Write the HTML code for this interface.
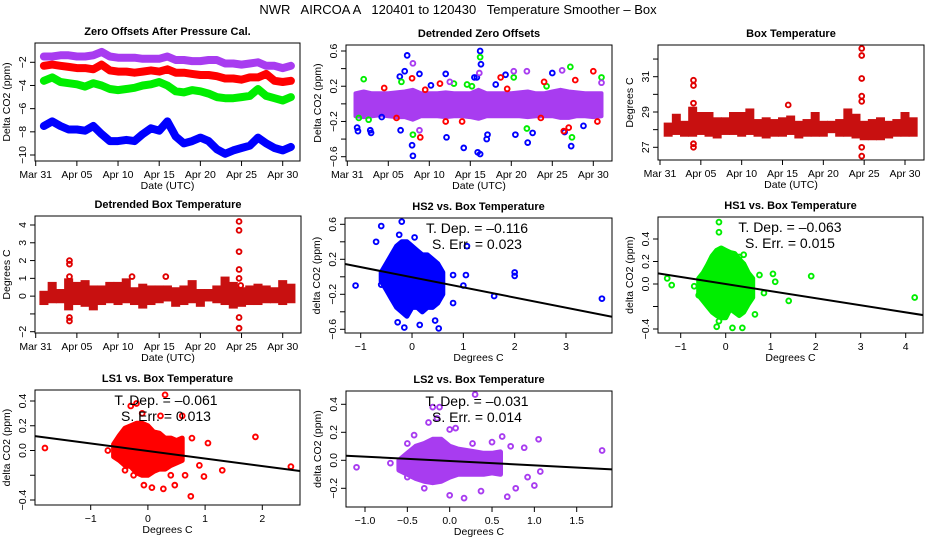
<!DOCTYPE html>
<html><head><meta charset="utf-8"><style>
html,body{margin:0;padding:0;background:#fff;}
svg{display:block;font-family:"Liberation Sans",Arial,sans-serif;}
</style></head><body>
<svg id="c" width="936" height="540" viewBox="0 0 936 540" xmlns="http://www.w3.org/2000/svg">
<text x="458" y="14" font-size="13" text-anchor="middle" xml:space="preserve">NWR   AIRCOA A   120401 to 120430   Temperature Smoother – Box</text>
</svg>
<script>
// ---------- data ----------
const days = [1,2,3,4,5,6,7,8,9,10,11,12,13,14,15,16,17,18,19,20,21,22,23,24,25,26,27,28,29,30,31];
const zeroPurple = [-1.5,-1.5,-1.4,-1.4,-1.5,-1.5,-1.4,-1.1,-1.5,-1.6,-1.6,-1.6,-1.7,-1.7,-1.7,-1.5,-1.8,-1.8,-1.9,-1.9,-1.8,-1.8,-2.1,-2.1,-2.2,-2.1,-2.0,-2.3,-2.3,-2.5,-2.3];
const zeroRed = [-2.3,-2.2,-2.3,-2.4,-2.5,-2.5,-2.6,-2.2,-2.7,-2.8,-2.8,-2.9,-2.8,-2.7,-2.8,-2.6,-2.9,-2.9,-3.0,-3.1,-3.1,-3.2,-3.4,-3.4,-3.5,-3.3,-3.3,-3.0,-3.6,-3.7,-3.6];
const zeroGreen = [-3.6,-3.3,-3.7,-3.8,-3.9,-4.1,-3.8,-4.0,-4.3,-4.4,-4.3,-4.2,-4.0,-3.9,-3.7,-4.0,-4.5,-4.6,-4.4,-4.5,-4.7,-5.0,-5.1,-5.1,-5.0,-4.9,-4.3,-4.9,-5.1,-5.3,-5.0];
const zeroBlue = [-7.5,-7.1,-7.5,-7.8,-7.8,-7.9,-7.5,-8.2,-8.8,-8.8,-8.7,-8.8,-8.2,-7.7,-7.9,-7.1,-8.4,-9.0,-8.8,-8.5,-8.8,-9.5,-9.9,-9.6,-9.4,-9.2,-8.5,-9.0,-9.4,-9.6,-9.3];

const detrHi = [0.12,0.14,0.12,0.12,0.12,0.13,0.14,0.16,0.12,0.12,0.12,0.13,0.12,0.12,0.12,0.16,0.12,0.12,0.12,0.12,0.13,0.14,0.12,0.12,0.14,0.16,0.14,0.13,0.12,0.12,0.12];
const detrLo = [-0.14,-0.15,-0.14,-0.13,-0.14,-0.15,-0.15,-0.18,-0.14,-0.14,-0.14,-0.15,-0.14,-0.14,-0.15,-0.17,-0.14,-0.14,-0.14,-0.14,-0.14,-0.15,-0.14,-0.14,-0.14,-0.16,-0.16,-0.14,-0.14,-0.15,-0.14];
const detrBlueDay = [7.3,8.0,7.9,16.2,16.2,15.9,12.0,12.1,14.2,22.0,27.3,1.2,1.3,2.8,2.9,6.4,7.0,8.8,16.3,15.8,15.5,17.0,17.1,19.3,20.5,22.6,25.0,26.5,28.8,4.2,6.5,10.2,18.1];
const detrBlueVal = [0.55,-0.59,-0.47,0.6,-0.57,-0.55,0.34,-0.38,-0.5,-0.44,-0.48,-0.27,-0.31,-0.3,-0.33,0.31,0.37,0.34,0.45,0.3,0.3,-0.4,-0.35,0.33,-0.35,-0.33,0.35,-0.32,-0.25,-0.15,-0.3,0.21,0.22];
const detrGreenDay = [16.2,27.2,2.0,6.6,8.0,21.9,27.4,31.0,14.6,15.2,13.0,1.4,2.6,20.3,24.3];
const detrGreenVal = [0.53,0.42,0.28,0.25,-0.35,-0.28,-0.38,0.3,0.22,0.2,0.23,-0.16,-0.18,0.3,0.2];
const detrRedDay = [30.0,8.9,7.9,11.3,27.8,26.4,27.0,23.6,6.0,12.0,18.7,30.5,24.0,4.5,9.5,14.0,19.5];
const detrRedVal = [0.37,-0.38,0.29,0.23,0.27,-0.31,-0.27,-0.16,-0.16,-0.2,0.3,-0.2,0.25,0.18,0.16,-0.2,0.17];
const detrMagDay = [8.0,20.3,21.9,16.1,26.2,8.8,12.5,31.0];
const detrMagVal = [0.46,0.37,0.37,0.35,0.38,-0.3,0.25,0.24];

const boxHi = [28.4,28.9,28.5,29.3,29.0,29.0,28.7,28.7,29.0,29.0,29.2,28.6,28.7,28.6,28.7,28.8,28.5,28.6,29.0,28.5,28.5,28.6,29.2,28.9,28.5,28.6,28.7,28.5,28.6,29.0,28.7];
const boxLo = [27.6,27.7,27.6,27.6,27.7,27.6,27.5,27.7,27.7,27.6,27.7,27.6,27.5,27.6,27.6,27.7,27.5,27.6,27.6,27.6,27.8,27.6,27.6,27.5,27.4,27.4,27.4,27.5,27.6,27.6,27.6];
const boxOutDay = [4.1,4.1,4.1,4.1,4.1,15.7,24.7,24.7,24.7,24.7,24.7,24.7,24.7];
const boxOutVal = [30.8,30.5,29.5,27.2,27.0,29.4,32.6,32.2,30.9,29.9,29.6,27.0,26.5];

const dboxHi = [0.3,0.8,0.4,1.0,0.8,0.9,0.6,0.6,0.8,0.8,1.0,0.5,0.7,0.6,0.6,0.6,0.5,0.6,0.9,0.4,0.4,0.6,1.1,0.8,0.5,0.6,0.7,0.6,0.5,0.9,0.7];
const dboxLo = [-0.5,-0.4,-0.4,-0.8,-0.5,-0.6,-0.8,-0.5,-0.4,-0.5,-0.4,-0.5,-0.7,-0.5,-0.4,-0.3,-0.6,-0.5,-0.4,-0.6,-0.3,-0.4,-0.5,-0.7,-0.6,-0.5,-0.5,-0.4,-0.4,-0.5,-0.4];
const dboxOutDay = [4.1,4.1,4.1,4.1,4.1,15.8,24.7,24.7,24.7,24.7,24.7,24.7,24.7,24.9,11.7];
const dboxOutVal = [2.0,1.8,-1.2,-1.4,1.1,1.1,4.2,3.7,2.5,1.5,1.0,-1.2,-1.8,0.6,1.1];

const cloudX = [-0.6,-0.5,-0.4,-0.3,-0.2,-0.1,0,0.1,0.2,0.3,0.4,0.5,0.6];
const hs2Hi = [0.05,0.15,0.25,0.35,0.4,0.4,0.35,0.3,0.25,0.25,0.2,0.15,0.05];
const hs2Lo = [-0.05,-0.15,-0.25,-0.35,-0.4,-0.45,-0.35,-0.35,-0.4,-0.35,-0.35,-0.3,-0.2];
const hs2OutX = [-1.1,-0.6,-0.2,-0.7,1.07,2.0,2.0,1.6,3.7,0.8,1.05,1.0,0.8,0.52,0.15,-0.15,-0.28,0.45,-0.6,0.05,-0.25];
const hs2OutY = [-0.1,0.58,0.63,0.4,0.35,0.05,0.01,-0.22,-0.25,0.02,0.02,-0.1,-0.3,-0.59,-0.55,-0.58,-0.52,-0.5,-0.09,0.45,0.48];
const hs2Fit = [-0.116, -0.005];

const hs1Hi = [0.05,0.1,0.17,0.25,0.3,0.32,0.3,0.28,0.27,0.22,0.18,0.1,0.05];
const hs1Lo = [-0.1,-0.15,-0.2,-0.25,-0.28,-0.3,-0.3,-0.22,-0.25,-0.28,-0.25,-0.18,-0.12];
const hs1OutX = [-1.3,-1.2,-0.15,-0.15,1.05,1.1,1.4,1.9,4.2,-0.2,0.15,0.37,-0.15,0.65,0.75,-0.6,-0.7,0.85,0.3,0.4];
const hs1OutY = [0.05,-0.01,0.55,0.46,0.09,0.02,-0.15,0.07,-0.12,-0.38,-0.39,-0.39,-0.33,-0.27,0.08,-0.1,-0.02,-0.08,0.24,0.26];
const hs1Fit = [-0.063, 0.0];

const ls1Hi = [0.05,0.12,0.18,0.2,0.22,0.22,0.2,0.15,0.14,0.1,0.1,0.08,0.1];
const ls1Lo = [-0.05,-0.08,-0.12,-0.13,-0.18,-0.2,-0.2,-0.17,-0.15,-0.15,-0.12,-0.1,-0.08];
const ls1OutX = [-1.8,0.3,-0.3,-0.2,0.22,0.6,-0.1,1.88,2.5,1.3,1.05,0.77,0.98,0.75,-0.07,0.07,0.27,0.47,0.4,-0.25,-0.4,0.65,0.9,-0.7];
const ls1OutY = [0.02,0.45,0.36,0.38,0.28,0.28,0.3,0.11,-0.13,-0.16,0.06,0.1,-0.21,-0.37,-0.28,-0.3,-0.31,-0.28,-0.2,-0.2,-0.16,-0.2,-0.12,0.0];
const ls1Fit = [-0.061, -0.004];

const ls2Hi = [0.0,0.05,0.1,0.12,0.15,0.15,0.1,0.08,0.07,0.06,0.05,0.05,0.06];
const ls2Lo = [-0.07,-0.1,-0.13,-0.15,-0.16,-0.15,-0.12,-0.1,-0.1,-0.1,-0.1,-0.09,-0.1];
const ls2OutX = [-1.1,-0.7,-0.2,-0.12,-0.15,-0.25,0.0,0.07,0.3,0.62,0.72,0.88,1.05,1.8,1.07,0.92,1.0,0.78,0.68,0.37,0.17,0.0,-0.3,-0.5,-0.42,-0.5,0.5,0.27];
const ls2OutY = [-0.05,-0.02,0.38,0.38,0.3,0.27,0.22,0.23,0.47,0.17,0.1,0.09,0.15,0.07,-0.08,-0.12,-0.18,-0.2,-0.26,-0.22,-0.27,-0.25,-0.2,-0.12,0.18,0.12,0.13,0.12];
const ls2Fit = [-0.031, -0.005];

const dateTicks = [0,5,10,15,20,25,30];
const dateLabels = ["Mar 31","Apr 05","Apr 10","Apr 15","Apr 20","Apr 25","Apr 30"];

// ---------- helpers ----------
const NS="http://www.w3.org/2000/svg";
const svg=document.getElementById('c');
function mk(tag,attrs,parent){const e=document.createElementNS(NS,tag);for(const k in attrs)e.setAttribute(k,attrs[k]);(parent||svg).appendChild(e);return e;}
function lin(v1,p1,v2,p2){const k=(p2-p1)/(v2-v1);return v=>p1+(v-v1)*k;}

function panel(p){
  const g=mk('g',{});
  
  
  const b=p.box;
  const t=mk('text',{x:(b[0]+b[2])/2,y:b[1]-8,'font-size':11,'font-weight':'bold','text-anchor':'middle'},g);
  t.textContent=p.title;
  
  
  const xa=mk('g',{},g);
  
  
  const xt0=p.sx(p.xticks[0]),xt1=p.sx(p.xticks[p.xticks.length-1]);
  mk('line',{x1:xt0,x2:xt1,y1:b[3],y2:b[3],stroke:'#000'},xa);
  p.xticks.forEach((v,i)=>{
    const x=p.sx(v);
    mk('line',{x1:x,x2:x,y1:b[3],y2:b[3]+5,stroke:'#000'},xa);
    const tl=mk('text',{x:x,y:b[3]+17,'font-size':10.5,'text-anchor':'middle'},xa);
    tl.textContent=p.xlabels[i];
    
    
  });
  const xl=mk('text',{x:(b[0]+b[2])/2,y:b[3]+28,'font-size':10.5,'text-anchor':'middle'},g);
  xl.textContent=p.xlab;
  
  
  const ya=mk('g',{},g);
  
  
  const yt0=p.sy(p.yticks[0]),yt1=p.sy(p.yticks[p.yticks.length-1]);
  mk('line',{x1:b[0],x2:b[0],y1:yt0,y2:yt1,stroke:'#000'},ya);
  p.yticks.forEach((v,i)=>{
    const y=p.sy(v);
    mk('line',{x1:b[0]-5,x2:b[0],y1:y,y2:y,stroke:'#000'},ya);
    if(p.ylabels[i]!==''){
      const tl=mk('text',{x:b[0]-9,y:y,'font-size':10.5,'text-anchor':'middle',transform:`rotate(-90 ${b[0]-9} ${y})`},ya);
      tl.textContent=p.ylabels[i];
      
      
    }
  });
  const yx=b[0]-25,yy=(b[1]+b[3])/2;
  const yl=mk('text',{x:yx,y:yy,'font-size':10.5,'text-anchor':'middle',transform:`rotate(-90 ${yx} ${yy})`},g);
  yl.textContent=p.ylab;
  
  
  const cid='clip'+p.name;
  const cp=mk('clipPath',{id:cid},g);
  mk('rect',{x:b[0],y:b[1],width:b[2]-b[0],height:b[3]-b[1]},cp);
  const pg=mk('g',{'clip-path':`url(#${cid})`},g);
  
  
  p.draw(pg,p.sx,p.sy);
  const fr=mk('rect',{x:b[0],y:b[1],width:b[2]-b[0],height:b[3]-b[1],fill:'none',stroke:'#000','stroke-width':1},g);
  
  
  if(p.stats){
    const cx=p.statX;
    const s1=mk('text',{x:cx,y:b[1]+15,'font-size':14,'text-anchor':'middle','xml:space':'preserve'},g);
    s1.textContent='T. Dep. =  \u2013'+p.stats[0];
    
    
    const s2=mk('text',{x:cx,y:b[1]+31,'font-size':14,'text-anchor':'middle','xml:space':'preserve'},g);
    s2.textContent='S. Err. =  '+p.stats[1];
    
    
  }
}
function pts(g,xs,ys,sx,sy,col,name,r){
  xs.forEach((x,i)=>{
    const c=mk('circle',{cx:sx(x),cy:sy(ys[i]),r:r||2.4,fill:'none',stroke:col,'stroke-width':1.9},g);
    
    
  });
}
function line(g,xs,ys,sx,sy,col,w,name){
  const d=xs.map((x,i)=>(i?'L':'M')+sx(x).toFixed(1)+' '+sy(ys[i]).toFixed(1)).join(' ');
  const e=mk('path',{d:d,fill:'none',stroke:col,'stroke-width':w,'stroke-linejoin':'round','stroke-linecap':'round'},g);
  
  
}
function band(g,xs,hi,lo,sx,sy,col,name,pad){
  pad=pad||0;
  let d='M'+xs.map((x,i)=>sx(x).toFixed(1)+' '+sy(hi[i]).toFixed(1)).join(' L');
  d+=' L'+xs.map((x,i)=>[sx(x),sy(lo[i])]).reverse().map(a=>a[0].toFixed(1)+' '+a[1].toFixed(1)).join(' L')+' Z';
  const e=mk('path',{d:d,fill:col,stroke:col,'stroke-width':pad,'stroke-linejoin':'round'},g);
  
  
}
function fitLine(g,fit,b,sx,sy){
  const k=fit[0],c=fit[1];
  const inv=lin(sx(0),0,sx(1),1);
  const xa=inv(b[0]),xb=inv(b[2]);
  const e=mk('line',{x1:b[0],x2:b[2],y1:sy(k*xa+c),y2:sy(k*xb+c),stroke:'#000','stroke-width':2},g);
  
  
}
function bars(g,xs,hi,lo,sx,sy,col,name){
  const w=sx(xs[1])-sx(xs[0])+0.8;
  xs.forEach((x,i)=>{
    const e=mk('rect',{x:sx(x)-w/2,y:sy(hi[i]),width:w,height:sy(lo[i])-sy(hi[i]),fill:col},g);
    
    
  });
}

const PURPLE='#a83cf0';
panel({name:'zero-offsets-panel',box:[35,43,300,161],title:'Zero Offsets After Pressure Cal.',xlab:'Date (UTC)',ylab:'Delta CO2  (ppm)',
  sx:lin(0,35.7,30,282.7),sy:lin(-2,62.3,-10,155),xticks:dateTicks,xlabels:dateLabels,
  yticks:[-2,-4,-6,-8,-10],ylabels:['\u22122','\u22124','\u22126','\u22128','\u221210'],
  draw:(g,sx,sy)=>{
    line(g,days,zeroPurple,sx,sy,PURPLE,8,'series-ls2');
    line(g,days,zeroRed,sx,sy,'#ff0000',8,'series-ls1');
    line(g,days,zeroGreen,sx,sy,'#00ee00',8,'series-hs1');
    line(g,days,zeroBlue,sx,sy,'#0000ff',8,'series-hs2');
  }});
panel({name:'detrended-zero-panel',box:[346,45,612,161],title:'Detrended Zero Offsets',xlab:'Date (UTC)',ylab:'Delta CO2  (ppm)',
  sx:lin(0,347.3,30,593.3),sy:lin(0.6,51,-0.6,156.7),xticks:dateTicks,xlabels:dateLabels,
  yticks:[0.6,0.4,0.2,0,-0.2,-0.4,-0.6],ylabels:['0.6','','0.2','','\u22120.2','','\u22120.6'],
  draw:(g,sx,sy)=>{
    band(g,days,detrHi,detrLo,sx,sy,PURPLE,'detrended-band',4);
    pts(g,detrBlueDay,detrBlueVal,sx,sy,'#0000ff','hs2-point');
    pts(g,detrGreenDay,detrGreenVal,sx,sy,'#00ee00','hs1-point');
    pts(g,detrRedDay,detrRedVal,sx,sy,'#ff0000','ls1-point');
    pts(g,detrMagDay,detrMagVal,sx,sy,PURPLE,'ls2-point');
  }});
panel({name:'box-temperature-panel',box:[658,45,924,160],title:'Box Temperature',xlab:'Date (UTC)',ylab:'Degrees C',
  sx:lin(0,660,30,905),sy:lin(31,76.7,27,147.3),xticks:dateTicks,xlabels:dateLabels,
  yticks:[27,28,29,30,31,32],ylabels:['27','','29','','31',''],
  draw:(g,sx,sy)=>{
    bars(g,days,boxHi,boxLo,sx,sy,'#c81010','temp-range');
    pts(g,boxOutDay,boxOutVal,sx,sy,'#e00000','temp-outlier');
  }});
panel({name:'detrended-box-temp-panel',box:[35,216,301,333],title:'Detrended Box Temperature',xlab:'Date (UTC)',ylab:'Degrees C',
  sx:lin(0,35.7,30,282.7),sy:lin(4,225,-2,331.7),xticks:dateTicks,xlabels:dateLabels,
  yticks:[-2,-1,0,1,2,3,4],ylabels:['\u22122','','0','1','2','3','4'],
  draw:(g,sx,sy)=>{
    bars(g,days,dboxHi,dboxLo,sx,sy,'#c81010','temp-range');
    pts(g,dboxOutDay,dboxOutVal,sx,sy,'#e00000','temp-outlier');
  }});
panel({name:'hs2-vs-temp-panel',box:[345,218,612,333],title:'HS2 vs. Box Temperature',xlab:'Degrees C',ylab:'delta CO2 (ppm)',
  sx:lin(-1,360.7,3,566),sy:lin(0.6,224.3,-0.6,329.3),xticks:[-1,0,1,2,3],xlabels:['\u22121','0','1','2','3'],
  yticks:[-0.6,-0.4,-0.2,0,0.2,0.4,0.6],ylabels:['\u22120.6','','\u22120.2','','0.2','','0.6'],
  stats:['0.116','0.023'],statX:477,
  draw:(g,sx,sy)=>{
    band(g,cloudX,hs2Hi,hs2Lo,sx,sy,'#0000ff','hs2-cloud',5);
    pts(g,hs2OutX,hs2OutY,sx,sy,'#0000ff','hs2-point');
    fitLine(g,hs2Fit,[345,218,612,333],sx,sy);
  }});
panel({name:'hs1-vs-temp-panel',box:[658,217,923,333],title:'HS1 vs. Box Temperature',xlab:'Degrees C',ylab:'delta CO2 (ppm)',
  sx:lin(-1,680.7,4,905.7),sy:lin(0.4,239,-0.4,329),xticks:[-1,0,1,2,3,4],xlabels:['\u22121','0','1','2','3','4'],
  yticks:[-0.4,-0.2,0,0.2,0.4],ylabels:['\u22120.4','','0.0','0.2','0.4'],
  stats:['0.063','0.015'],statX:790,
  draw:(g,sx,sy)=>{
    band(g,cloudX,hs1Hi,hs1Lo,sx,sy,'#00ee00','hs1-cloud',5);
    pts(g,hs1OutX,hs1OutY,sx,sy,'#00ee00','hs1-point');
    fitLine(g,hs1Fit,[658,217,923,333],sx,sy);
  }});
panel({name:'ls1-vs-temp-panel',box:[35,390,300,505],title:'LS1 vs. Box Temperature',xlab:'Degrees C',ylab:'delta CO2 (ppm)',
  sx:lin(-1,90.7,2,262.3),sy:lin(0.4,401,-0.4,500),xticks:[-1,0,1,2],xlabels:['\u22121','0','1','2'],
  yticks:[-0.4,-0.2,0,0.2,0.4],ylabels:['\u22120.4','','0.0','0.2','0.4'],
  stats:['0.061','0.013'],statX:166,
  draw:(g,sx,sy)=>{
    band(g,cloudX,ls1Hi,ls1Lo,sx,sy,'#ff0000','ls1-cloud',5);
    pts(g,ls1OutX,ls1OutY,sx,sy,'#ff0000','ls1-point');
    fitLine(g,ls1Fit,[35,390,300,505],sx,sy);
  }});
panel({name:'ls2-vs-temp-panel',box:[346,391,612,507],title:'LS2 vs. Box Temperature',xlab:'Degrees C',ylab:'delta CO2 (ppm)',
  sx:lin(-1,365,1.5,576.7),sy:lin(0.4,404.3,-0.2,488.3),xticks:[-1,-0.5,0,0.5,1,1.5],xlabels:['\u22121.0','\u22120.5','0.0','0.5','1.0','1.5'],
  yticks:[-0.2,0,0.2,0.4],ylabels:['\u22120.2','0.0','0.2','0.4'],
  stats:['0.031','0.014'],statX:477,
  draw:(g,sx,sy)=>{
    band(g,cloudX,ls2Hi,ls2Lo,sx,sy,PURPLE,'ls2-cloud',5);
    pts(g,ls2OutX,ls2OutY,sx,sy,PURPLE,'ls2-point');
    fitLine(g,ls2Fit,[346,391,612,507],sx,sy);
  }});
</script>
</body></html>
